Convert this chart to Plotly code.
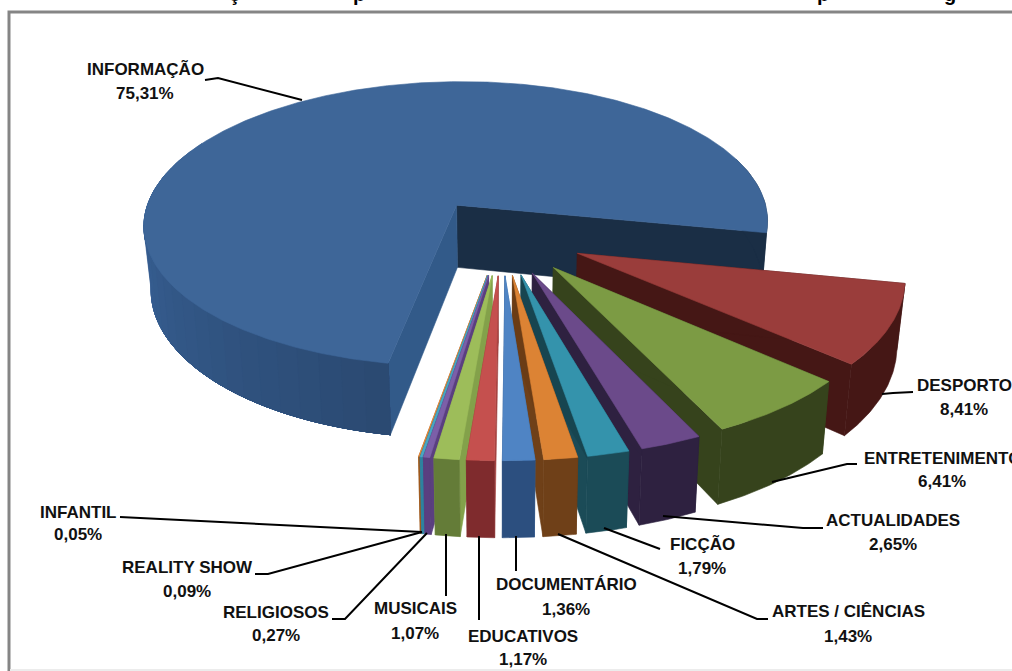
import numpy as np
import plotly.graph_objects as go

# Programme genres and their share of broadcast time (%)
generos = ["INFORMAÇÃO", "DESPORTO", "ENTRETENIMENTO", "ACTUALIDADES", "FICÇÃO",
           "ARTES / CIÊNCIAS", "DOCUMENTÁRIO", "EDUCATIVOS", "MUSICAIS",
           "RELIGIOSOS", "REALITY SHOW", "INFANTIL"]
percentagens = [75.31, 8.41, 6.41, 2.65, 1.79, 1.43, 1.36, 1.17, 1.07, 0.27, 0.09, 0.05]

cor_topo = ["#3e6698", "#9a3d3b", "#7c9b44", "#6b4a8a", "#3493ac", "#dc8334",
            "#4f84c4", "#c5504e", "#9dbd5a", "#7c5fa8", "#4aa6c2", "#e88a3a"]
cor_lado = ["#2b4a72", "#451715", "#36431c", "#2e2140", "#1b4b57", "#6f4018",
            "#2c4f7f", "#7f2b2d", "#647c38", "#5a3f80", "#2e83a0", "#a0591c"]
cor_corte_fim = ["#1a2e45", "#451715", "#36431c", "#2e2140", "#1b4b57", "#6f4018",
                 "#2c4f7f", "#8f3533", "#83a14a", "#5a3f80", "#2e83a0", "#a0591c"]
cor_corte_ini = ["#325a89", "#451715", "#36431c", "#2e2140", "#174550", "#6b3c15",
                 "#3a6aa3", "#a34240", "#83a14a", "#5a3f80", "#2e83a0", "#a0591c"]

# Label line centres on the canvas, in the same order as the genres
rotulo_x = [145, 964, 942, 893, 702, 848, 566, 523, 415, 276, 187, 78]
nome_y = [69, 385, 458, 520, 544, 611, 584, 636, 608, 612, 567, 512]
valor_y = [93, 409, 481, 544, 568, 636, 609, 659, 633, 635, 591, 534]

# Leader lines from each label to its slice
guias = [
    [(205, 80), (218, 78), (302, 100)],
    [(913, 392), (893, 393), (882, 394)],
    [(857, 464), (847, 464), (772, 482)],
    [(823, 528), (803, 528), (663, 516)],
    [(660, 549), (604, 528)],
    [(768, 619), (757, 619), (558, 534)],
    [(516, 536), (516, 571)],
    [(479, 536), (479, 620)],
    [(446, 534), (446, 596)],
    [(332, 619), (345, 619), (427, 533)],
    [(255, 574), (268, 574), (422, 532)],
    [(120, 517), (422, 532)],
]

# Projection of the exploded pie: centre, radii, perspective, height and explosion
CX, CY, RX, RY = 502.0, 236.0, 318.0, 148.0
PERSP, ALTURA, EXPLOSAO, RECUO = 0.135, 64.0, 0.26, 0.98
ANGULO_INICIAL = 100.0


def projeta(X, F, base=False):
    X, F = np.asarray(X, float), np.asarray(F, float)
    p = 1.0 / (1.0 - PERSP * F)
    x = CX + RX * X * p
    y = CY + RY * F * p
    if base:
        x = CX + (x - CX) * RECUO
        y = y + ALTURA * p
    return x, y


def poligono(fig, x, y, cor):
    fig.add_trace(go.Scatter(
        x=list(x) + [x[0]], y=list(y) + [y[0]], mode="lines", fill="toself",
        fillcolor=cor, line=dict(color=cor, width=0.6), hoverinfo="skip", showlegend=False))


def mistura(c, f):
    r, g, b = int(c[1:3], 16), int(c[3:5], 16), int(c[5:7], 16)
    return "#%02x%02x%02x" % (min(255, int(r * f)), min(255, int(g * f)), min(255, int(b * f)))


def parede(fig, Xs, Fs, cor):
    xt, yt = projeta(Xs, Fs)
    xb, yb = projeta(Xs, Fs, base=True)
    poligono(fig, np.r_[xt, xb[::-1]], np.r_[yt, yb[::-1]], cor)


def desenha_fatia(fig, i, inicio, fim):
    meio = np.radians((inicio + fim) / 2)
    ox, oy = EXPLOSAO * np.cos(meio), EXPLOSAO * np.sin(meio)
    a0, a1 = np.radians(inicio), np.radians(fim)

    # Cut faces running from the apex to the rim
    parede(fig, [ox, ox + np.cos(a1)], [oy, oy + np.sin(a1)], cor_corte_fim[i])
    parede(fig, [ox, ox + np.cos(a0)], [oy, oy + np.sin(a0)], cor_corte_ini[i])

    if i == 0:
        # The large slice's rim lightens from the front towards its far left,
        # painted as overlapping bands so no seams appear between them
        for g0 in np.arange(inicio, 205.0, 4.0)[::-1]:
            t = np.radians(np.linspace(inicio, g0 + 4.0, 60))
            sombra = 1.0 + 0.32 * min(1.0, max(0.0, (g0 + 2 - 100) / 80))
            parede(fig, ox + np.cos(t), oy + np.sin(t), mistura(cor_lado[i], sombra))
        t = np.radians(np.linspace(340.0, fim, 20))
        parede(fig, ox + np.cos(t), oy + np.sin(t), cor_corte_fim[i])
    else:
        t = np.radians(np.linspace(inicio, fim, max(3, int(fim - inicio) * 2)))
        parede(fig, ox + np.cos(t), oy + np.sin(t), cor_lado[i])

    # Upper face
    t = np.radians(np.linspace(inicio, fim, max(3, int((fim - inicio) * 2))))
    xt, yt = projeta(np.r_[ox, ox + np.cos(t)], np.r_[oy, oy + np.sin(t)])
    poligono(fig, xt, yt, cor_topo[i])


fig = go.Figure()
total = sum(percentagens)
limites = ANGULO_INICIAL + np.r_[0.0, np.cumsum(percentagens)] / total * 360.0

# Far slice first, then the right-hand fan, then the left-hand fan towards the middle
for i in [0, 1, 2, 3, 4, 5, 11, 10, 9, 8, 7, 6]:
    desenha_fatia(fig, i, limites[i], limites[i + 1])

FONTE = "Liberation Sans, Arial, sans-serif"
anotacoes = []
for g, v, x, y1, y2 in zip(generos, percentagens, rotulo_x, nome_y, valor_y):
    valor = f"{v:.2f}".replace(".", ",") + "%"
    for texto, y in ((g, y1), (valor, y2)):
        anotacoes.append(dict(x=x, y=y, xref="x", yref="y", showarrow=False,
                              text=f"<b>{texto}</b>",
                              font=dict(family=FONTE, size=17, color="#111111")))
# The heading runs off the top edge; only its descenders remain on the canvas
for letra, x in [("ç", 234), ("p", 359), ("p", 823), ("g", 950)]:
    anotacoes.append(dict(x=x, y=7, xref="x", yref="y", showarrow=False, yanchor="bottom",
                          text=f"<b>{letra}</b>",
                          font=dict(family=FONTE, size=20, color="#000000")))

formas = [
    dict(type="path", layer="below", path="M 9 671 L 9 12 L 1012 12",
         line=dict(color="#858585", width=3)),
    dict(type="line", layer="below", x0=10, x1=1012, y0=670, y1=670,
         line=dict(color="#ececec", width=2)),
]
for g in guias:
    caminho = "M " + " L ".join(f"{x} {y}" for x, y in g)
    formas.append(dict(type="path", path=caminho, line=dict(color="#000000", width=2)))

fig.update_layout(
    width=1012, height=671, margin=dict(l=0, r=0, t=0, b=0),
    paper_bgcolor="#ffffff", plot_bgcolor="#ffffff",
    xaxis=dict(range=[0, 1012], visible=False, fixedrange=True),
    yaxis=dict(range=[671, 0], visible=False, fixedrange=True),
    annotations=anotacoes, shapes=formas, showlegend=False,
)
fig.write_html("out.html", config=dict(displayModeBar=False))
